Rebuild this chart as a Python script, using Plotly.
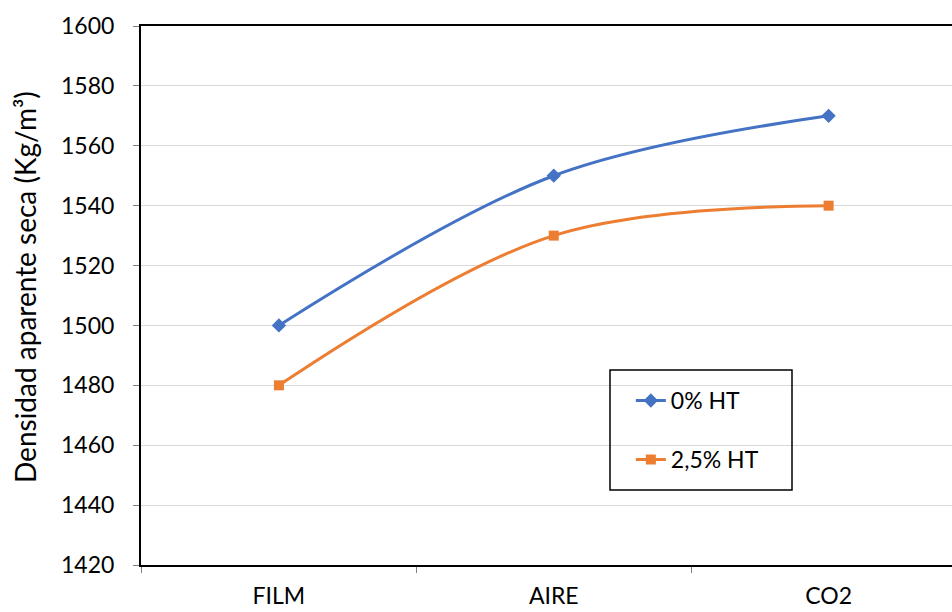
import plotly.graph_objects as go

# Dry bulk density by curing condition
categories = ["FILM", "AIRE", "CO2"]
ht_0 = [1500, 1550, 1570]
ht_25 = [1480, 1530, 1540]
series_names = ["0% HT", "2,5% HT"]
y_ticks = [1420, 1440, 1460, 1480, 1500, 1520, 1540, 1560, 1580, 1600]
y_title = "Densidad aparente seca (Kg/m³)"

FONT = "Lato, Carlito, 'Open Sans', sans-serif"

fig = go.Figure()
fig.add_trace(go.Scatter(
    x=categories, y=ht_0, name=series_names[0], legendgroup="a",
    mode="lines+markers",
    line=dict(color="#4472C4", width=3, shape="spline", smoothing=1),
    marker=dict(symbol="diamond", size=11, color="#4472C4"),
))
fig.add_trace(go.Scatter(
    x=categories, y=ht_25, name=series_names[1], legendgroup="b",
    mode="lines+markers",
    line=dict(color="#ED7D31", width=3, shape="spline", smoothing=1),
    marker=dict(symbol="square", size=10, color="#ED7D31"),
))

fig.update_layout(
    width=952, height=612,
    margin=dict(l=141, r=0, t=26, b=47),
    paper_bgcolor="white", plot_bgcolor="white",
    font=dict(family=FONT, size=23, color="#000000"),
    showlegend=True,
    legend=dict(
        x=0.604, y=0.345, xanchor="left", yanchor="top",
        bgcolor="rgba(0,0,0,0)", borderwidth=0,
        font=dict(size=23), tracegroupgap=26,
    ),
    shapes=[dict(
        type="rect", xref="paper", yref="paper",
        x0=(610 - 141) / 811, x1=(792 - 141) / 811,
        y0=(565 - 490) / 539, y1=(565 - 370) / 539,
        line=dict(color="black", width=1.5), fillcolor="rgba(0,0,0,0)",
        layer="above",
    )],
    annotations=[dict(
        text=y_title, xref="paper", yref="paper",
        x=(25 - 141) / 811, y=(565 - 287) / 539,
        xanchor="center", yanchor="middle", textangle=-90,
        showarrow=False, font=dict(size=28),
    )],
)

fig.update_xaxes(
    type="category", range=[-0.5018, 2.449], automargin=False,
    showline=True, linecolor="black", linewidth=2, mirror=True,
    showgrid=False, zeroline=False,
    ticks="outside", tickson="boundaries", ticklen=6, tickcolor="#7f7f7f",
    tickfont=dict(size=23), ticklabelstandoff=9,
)
fig.update_yaxes(
    range=[1420, 1600], tickvals=y_ticks, automargin=False,
    showline=True, linecolor="black", linewidth=2,
    showgrid=True, gridcolor="#d9d9d9", gridwidth=1, zeroline=False,
    ticks="outside", ticklen=6, tickcolor="#7f7f7f",
    tickfont=dict(size=23), ticklabelstandoff=14,
)

fig.write_html("out.html")
